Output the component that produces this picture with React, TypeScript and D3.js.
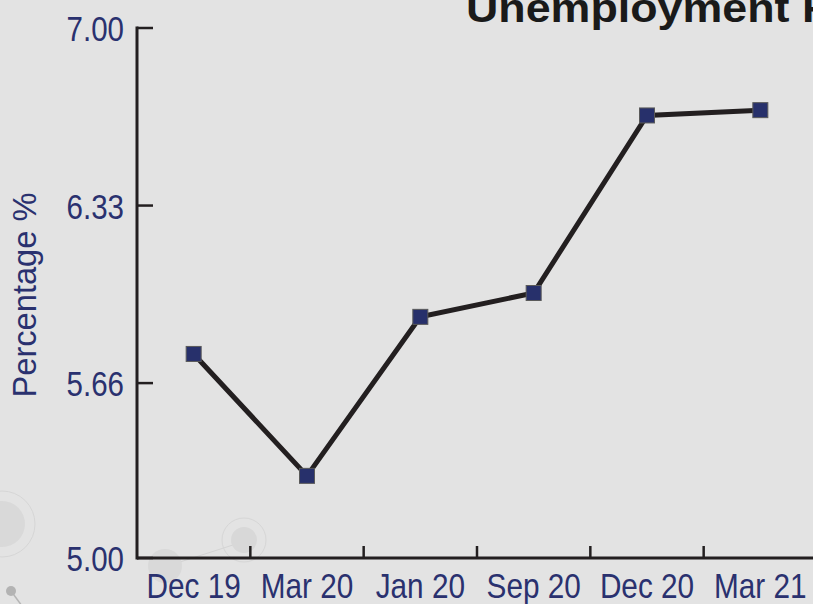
import React, { useRef, useEffect } from 'react';
import * as d3 from 'd3';

const categories = ['Dec 19', 'Mar 20', 'Jan 20', 'Sep 20', 'Dec 20', 'Mar 21'];
const rates = [5.77, 5.31, 5.91, 6.0, 6.67, 6.69];
const yTicks = [5.0, 5.66, 6.33, 7.0];
const yTickLabels = ['5.00', '5.66', '6.33', '7.00'];

const WIDTH = 813;
const HEIGHT = 604;
const NAVY = '#2a316f';
const INK = '#231f20';
const FONT = '"Liberation Sans", Arial, sans-serif';

const App: React.FC = () => {
  const svgRef = useRef<SVGSVGElement | null>(null);

  useEffect(() => {
    if (!svgRef.current) return;
    const svg = d3.select(svgRef.current);
    svg.selectAll('*').remove();

    const left = 137;
    const top = 28;
    const bottom = 558;

    const xScale = d3.scaleBand()
      .domain(categories)
      .range([left, 817])
      .padding(0);

    const yScale = d3.scaleLinear()
      .domain([5, 7])
      .range([bottom, top]);

    // background + faint decorations
    svg.append('rect')
      .attr('width', WIDTH)
      .attr('height', HEIGHT)
      .attr('fill', '#e3e3e3');

    const deco = svg.append('g');
    deco.append('circle').attr('cx', 2).attr('cy', 524).attr('r', 33)
      .attr('fill', 'none').attr('stroke', '#d6d6d6').attr('stroke-width', 1);
    deco.append('circle').attr('cx', 2).attr('cy', 524).attr('r', 23).attr('fill', '#d9d9d9');
    deco.append('line').attr('x1', 180).attr('y1', 562).attr('x2', 236).attr('y2', 544)
      .attr('stroke', '#d4d4d4').attr('stroke-width', 1);
    deco.append('circle').attr('cx', 244).attr('cy', 540).attr('r', 22)
      .attr('fill', 'none').attr('stroke', '#d6d6d6').attr('stroke-width', 1);
    deco.append('circle').attr('cx', 244).attr('cy', 540).attr('r', 13).attr('fill', '#d8d8d8');
    deco.append('circle').attr('cx', 165).attr('cy', 566).attr('r', 17).attr('fill', '#d9d9d9');
    deco.append('line').attr('x1', 11).attr('y1', 591).attr('x2', 22).attr('y2', 606)
      .attr('stroke', '#b5b5b5').attr('stroke-width', 1.5);
    deco.append('circle').attr('cx', 11).attr('cy', 591).attr('r', 5).attr('fill', '#b3b3b3');

    // title (cut off at the top/right like the original)
    svg.append('text')
      .attr('transform', 'translate(466, 22) scale(1.12, 1)')
      .attr('font-family', FONT)
      .attr('font-weight', 'bold')
      .attr('font-size', 40)
      .attr('fill', '#1a1a1a')
      .text('Unemployment Rate');

    // axes
    svg.append('line')
      .attr('x1', left).attr('x2', left)
      .attr('y1', top - 1.5).attr('y2', bottom + 1.5)
      .attr('stroke', INK).attr('stroke-width', 3);
    svg.append('line')
      .attr('x1', left).attr('x2', WIDTH + 10)
      .attr('y1', bottom).attr('y2', bottom)
      .attr('stroke', INK).attr('stroke-width', 3);

    yTicks.forEach((t, i) => {
      const y = yScale(t);
      svg.append('line')
        .attr('x1', left).attr('x2', left + 16)
        .attr('y1', y).attr('y2', y)
        .attr('stroke', INK).attr('stroke-width', 2.5);
      svg.append('text')
        .attr('transform', `translate(124, ${y + 13}) scale(0.82, 1)`)
        .attr('text-anchor', 'end')
        .attr('font-family', FONT)
        .attr('font-size', 36)
        .attr('fill', NAVY)
        .text(yTickLabels[i]);
    });

    categories.forEach((c) => {
      const x0 = xScale(c)!;
      const xEnd = x0 + xScale.bandwidth();
      svg.append('line')
        .attr('x1', xEnd).attr('x2', xEnd)
        .attr('y1', bottom).attr('y2', bottom - 12)
        .attr('stroke', INK).attr('stroke-width', 2.5);
      svg.append('text')
        .attr('transform', `translate(${x0 + xScale.bandwidth() / 2}, 598) scale(0.85, 1)`)
        .attr('text-anchor', 'middle')
        .attr('font-family', FONT)
        .attr('font-size', 35)
        .attr('fill', NAVY)
        .text(c);
    });

    svg.append('text')
      .attr('transform', 'translate(36, 295) rotate(-90) scale(0.96, 1)')
      .attr('text-anchor', 'middle')
      .attr('font-family', FONT)
      .attr('font-size', 34)
      .attr('fill', NAVY)
      .text('Percentage %');

    // line + square markers
    const points: [number, number][] = categories.map((c, i) => [
      xScale(c)! + xScale.bandwidth() / 2,
      yScale(rates[i]),
    ]);

    const line = d3.line<[number, number]>()
      .x(d => d[0])
      .y(d => d[1]);

    svg.append('path')
      .attr('d', line(points))
      .attr('fill', 'none')
      .attr('stroke', INK)
      .attr('stroke-width', 5)
      .attr('stroke-linejoin', 'miter');

    const size = 15;
    svg.selectAll('.marker')
      .data(points)
      .enter()
      .append('rect')
      .attr('class', 'marker')
      .attr('x', d => d[0] - size / 2)
      .attr('y', d => d[1] - size / 2)
      .attr('width', size)
      .attr('height', size)
      .attr('fill', '#27306b')
      .attr('stroke', '#5a5a5a')
      .attr('stroke-width', 1);
  }, []);

  return (
    <svg
      ref={svgRef}
      width={WIDTH}
      height={HEIGHT}
      style={{ position: 'absolute', left: 0, top: 0, display: 'block' }}
    />
  );
};

export default App;
